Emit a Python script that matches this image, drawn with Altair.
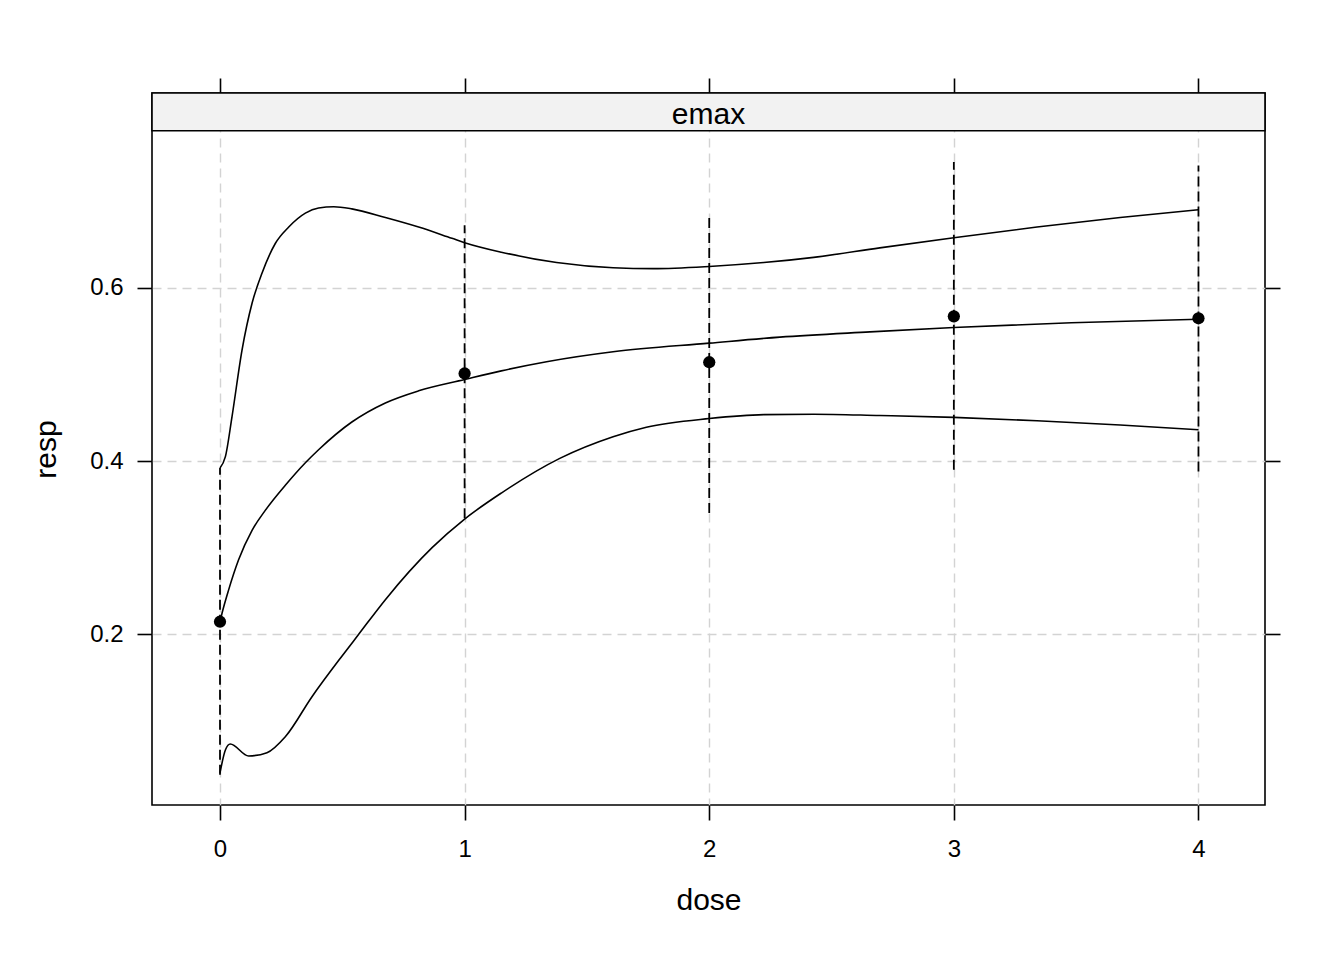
import altair as alt
import pandas as pd

# ---- data ----
panel = ["emax"]

dose_obs = [0, 1, 2, 3, 4]
resp_obs = [0.2145, 0.501, 0.514, 0.567, 0.5647]
ci_lo = [0.038, 0.334, 0.340, 0.390, 0.388]
ci_hi = [0.392, 0.672, 0.681, 0.745, 0.741]

mid_dose = [0.0, 0.008, 0.035, 0.076, 0.131, 0.185, 0.267, 0.349, 0.403, 0.539, 0.676,
            0.812, 1.0, 1.15, 1.335, 1.607, 2.0, 2.289, 2.657, 3.0, 3.48, 4.0]
mid_resp = [0.2145, 0.224, 0.251, 0.286, 0.320, 0.343, 0.372, 0.398, 0.413, 0.445, 0.467,
            0.481, 0.494, 0.504, 0.5145, 0.526, 0.536, 0.543, 0.549, 0.554, 0.5596, 0.5636]

up_dose = [0.0, 0.022, 0.049, 0.09, 0.131, 0.172, 0.226, 0.281, 0.349, 0.403, 0.465, 0.539,
           0.676, 0.812, 0.948, 1.0, 1.15, 1.376, 1.607, 1.771, 2.0, 2.223, 2.427, 2.697,
           3.0, 3.34, 3.68, 4.0]
up_resp = [0.392, 0.405, 0.451, 0.528, 0.582, 0.617, 0.651, 0.670, 0.686, 0.692, 0.6935, 0.691,
           0.681, 0.670, 0.657, 0.652, 0.641, 0.629, 0.623, 0.622, 0.6245, 0.629, 0.635, 0.646,
           0.6577, 0.670, 0.681, 0.690]

lo_dose = [0.0, 0.022, 0.042, 0.117, 0.192, 0.267, 0.376, 0.499, 0.567, 0.676, 0.867, 1.0,
           1.15, 1.389, 1.607, 1.743, 2.0, 2.223, 2.427, 2.697, 3.0, 3.34, 3.68, 4.0]
lo_resp = [0.040, 0.0665, 0.0734, 0.0596, 0.0634, 0.0818, 0.128, 0.175, 0.200, 0.240, 0.300, 0.333,
           0.363, 0.403, 0.428, 0.439, 0.449, 0.4535, 0.454, 0.4525, 0.4504, 0.4465, 0.4416, 0.436]

x_ticks = [0, 1, 2, 3, 4]
y_ticks = [0.2, 0.4, 0.6]

# ---- tables ----
obs = pd.DataFrame({"dose": dose_obs, "resp": resp_obs, "lo": ci_lo, "hi": ci_hi})
curves = pd.concat([
    pd.DataFrame({"dose": up_dose, "resp": up_resp, "curve": "upper"}),
    pd.DataFrame({"dose": mid_dose, "resp": mid_resp, "curve": "fit"}),
    pd.DataFrame({"dose": lo_dose, "resp": lo_resp, "curve": "lower"}),
], ignore_index=True)
strip = pd.DataFrame({"panel": panel})

W, H = 1113, 712
STRIP_H = 37.7
FONT = "Liberation Sans"

xs = alt.Scale(domain=[-0.278, 4.272], nice=False, zero=False)
ys = alt.Scale(domain=[0.003, 0.8247], nice=False, zero=False)

common = dict(domain=False, tickColor="black", tickWidth=1.6, tickSize=15,
              labelFont=FONT, titleFont=FONT, labelColor="black", titleColor="black",
              titleFontWeight="normal")

x_bottom = alt.Axis(values=x_ticks, title="dose", format="d", grid=True, gridColor="#D3D3D3",
                    gridDash=[9, 6], gridWidth=1.4, labelFontSize=24, labelPadding=17,
                    titleFontSize=30, titlePadding=24, **common)
y_left = alt.Axis(values=y_ticks, title="resp", format=".1f", grid=True, gridColor="#D3D3D3",
                  gridDash=[9, 6], gridWidth=1.4, labelFontSize=24, labelPadding=14,
                  titleFontSize=30, titlePadding=28, **common)
x_top = alt.Axis(orient="top", values=x_ticks, labels=False, title=None, grid=False, **common)
y_right = alt.Axis(orient="right", values=y_ticks, labels=False, title=None, grid=False, **common)

lines = alt.Chart(curves).mark_line(color="black", strokeWidth=1.6, interpolate="monotone").encode(
    x=alt.X("dose:Q", scale=xs, axis=x_bottom),
    y=alt.Y("resp:Q", scale=ys, axis=y_left),
    detail="curve:N",
    order="dose:Q",
)

bars = alt.Chart(obs).mark_rule(color="black", strokeWidth=1.8, strokeDash=[10, 5]).encode(
    x=alt.X("dose:Q", scale=xs, axis=None),
    y=alt.Y("lo:Q", scale=ys, axis=None),
    y2="hi:Q",
)

points = alt.Chart(obs).mark_circle(color="black", opacity=1, size=150).encode(
    x=alt.X("dose:Q", scale=xs, axis=x_top),
    y=alt.Y("resp:Q", scale=ys, axis=y_right),
)

strip_rect = alt.Chart(strip).mark_rect(fill="#F2F2F2", stroke="black", strokeWidth=1.6).encode(
    x=alt.value(0), x2=alt.value(W), y=alt.value(0), y2=alt.value(STRIP_H),
)
strip_text = alt.Chart(strip).mark_text(font=FONT, fontSize=30, color="black",
                                        baseline="alphabetic", align="center").encode(
    text="panel:N", x=alt.value(W / 2), y=alt.value(31),
)

chart = alt.layer(lines, bars, points, strip_rect, strip_text).resolve_axis(
    x="independent", y="independent"
).properties(
    width=W, height=H,
    padding={"left": 23, "top": 69, "right": 10, "bottom": 10},
    background="white",
).configure_view(stroke="black", strokeWidth=1.6)

chart.save("out.html", embed_options={"renderer": "svg", "actions": False})
